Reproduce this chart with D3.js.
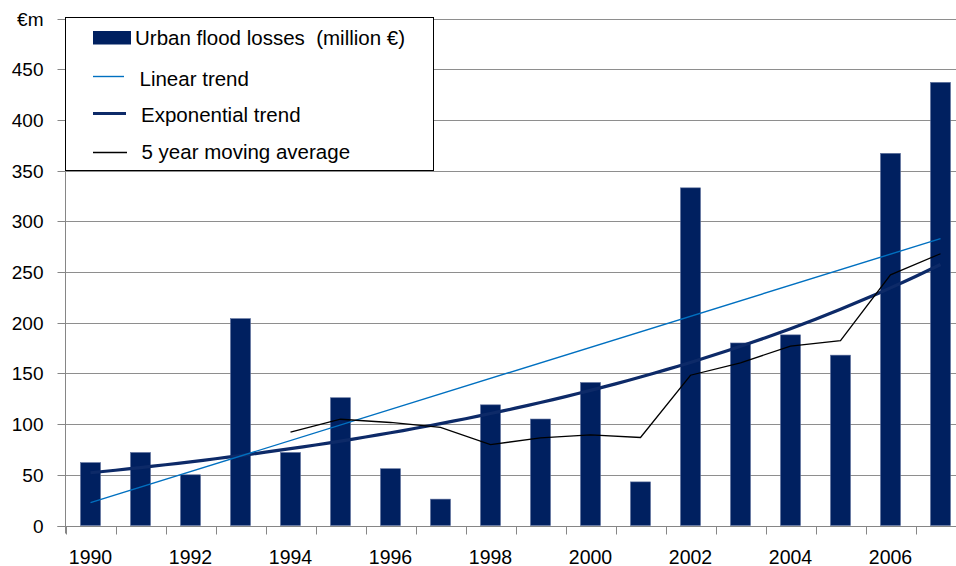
<!DOCTYPE html>
<html>
<head>
<meta charset="utf-8">
<script src="https://cdn.jsdelivr.net/npm/d3@7"></script>
<style>
  body { margin: 0; background: #fff; }
  svg text { font-family: "Liberation Sans", Arial, sans-serif; fill: #000; }
</style>
</head>
<body>
<script>
var w = 956,
    h = 566;

// data
var years = [1990, 1991, 1992, 1993, 1994, 1995, 1996, 1997, 1998,
             1999, 2000, 2001, 2002, 2003, 2004, 2005, 2006, 2007];
var losses = [62, 72, 50, 204, 72, 126, 56, 26, 119,
              105, 141, 43, 333, 180, 188, 168, 367, 437];
var yTicks = [0, 50, 100, 150, 200, 250, 300, 350, 400, 450, 500];
var xLabelYears = [1990, 1992, 1994, 1996, 1998, 2000, 2002, 2004, 2006];
var unitLabel = "€m";
var legendLabels = ["Urban flood losses  (million €)", "Linear trend",
                    "Exponential trend", "5 year moving average"];

var barColor = "#002060",
    linColor = "#0070c0",
    expColor = "#0d2a68",
    maColor = "#000";

// plot edges (note: "top" is taken by window.top)
var pLeft = 65.5, pRight = 965.5, pBottom = 525.5, pTop = 18.5;

var svg = d3.select("body")
    .append("svg")
    .attr("width", w)
    .attr("height", h);

var x = d3.scaleBand()
    .domain(years)
    .range([pLeft, pRight])
    .paddingInner(0.6)
    .paddingOuter(0.3);

// continuous year -> centre of band, for the trend lines
var xc = d3.scaleLinear()
    .domain([years[0], years[years.length - 1]])
    .range([x(years[0]) + x.bandwidth() / 2, x(years[years.length - 1]) + x.bandwidth() / 2]);

var y = d3.scaleLinear()
    .domain([0, 500])
    .range([pBottom, pTop]);

// gridlines
svg.append("g")
    .selectAll("line")
    .data(yTicks.slice(1))
    .enter()
    .append("line")
    .attr("x1", pLeft)
    .attr("x2", pRight)
    .attr("y1", function (d) { return Math.round(y(d)) + 0.5; })
    .attr("y2", function (d) { return Math.round(y(d)) + 0.5; })
    .attr("stroke", "#8e8e8e")
    .attr("stroke-width", 1);

// y axis
var yAxis = svg.append("g")
    .attr("transform", "translate(" + pLeft + ",0)")
    .call(d3.axisLeft(y)
        .tickValues(yTicks)
        .tickSize(8)
        .tickPadding(14)
        .tickFormat(function (d) { return d === 500 ? unitLabel : d; }));
yAxis.select(".domain").attr("stroke", "#868686").attr("d", "M0," + pTop + "V" + (pBottom + 8));
yAxis.selectAll(".tick line").attr("stroke", "#868686");
yAxis.selectAll(".tick").attr("transform", function (d) {
    return "translate(0," + (Math.round(y(d)) + 0.5) + ")";
});
yAxis.selectAll("text")
    .style("font-size", "19px")
    .style("font-family", "'Liberation Sans', Arial, sans-serif");

// x axis
var xAxis = svg.append("g")
    .attr("transform", "translate(0," + (Math.round(pBottom) + 0.5) + ")")
    .call(d3.axisBottom(x)
        .tickValues(xLabelYears)
        .tickSize(0)
        .tickFormat(function (d) { return d; }));
xAxis.select(".domain").attr("stroke", "#868686").attr("d", "M" + (pLeft - 8) + ",0H" + pRight);
xAxis.selectAll("text")
    .attr("y", 37)
    .attr("dy", 0)
    .style("font-size", "19.5px")
    .style("font-family", "'Liberation Sans', Arial, sans-serif");

// boundary ticks between categories
xAxis.selectAll(".bound")
    .data(years)
    .enter()
    .append("line")
    .attr("class", "bound")
    .attr("x1", function (d) { return Math.round(x(d) - x.step() * 0.3) + 0.5; })
    .attr("x2", function (d) { return Math.round(x(d) - x.step() * 0.3) + 0.5; })
    .attr("y1", 0)
    .attr("y2", 8)
    .attr("stroke", "#868686");

// bars
svg.append("g")
    .selectAll("rect")
    .data(losses)
    .enter()
    .append("rect")
    .attr("x", function (d, i) { return x(years[i]); })
    .attr("y", function (d) { return y(d); })
    .attr("width", x.bandwidth())
    .attr("height", function (d) { return pBottom - y(d); })
    .attr("fill", barColor)
    .attr("stroke", "#5c6f9c")
    .attr("stroke-width", 0.6);

// linear trend (least squares on the bars)
var n = losses.length;
var tMean = d3.mean(years), vMean = d3.mean(losses);
var sxx = d3.sum(years, function (t) { return (t - tMean) * (t - tMean); });
var sxy = d3.sum(years, function (t, i) { return (t - tMean) * (losses[i] - vMean); });
var slope = sxy / sxx;
var lin = function (t) { return vMean + slope * (t - tMean); };

// exponential trend (least squares on log values, like the spreadsheet does)
var logs = losses.map(Math.log);
var lMean = d3.mean(logs);
var lxy = d3.sum(years, function (t, i) { return (t - tMean) * (logs[i] - lMean); });
var b = lxy / sxx;
var expo = function (t) { return Math.exp(lMean + b * (t - tMean)); };

// 5 year moving average
var ma = [];
for (var i = 4; i < n; i++) {
    ma.push({ year: years[i], v: d3.mean(losses.slice(i - 4, i + 1)) });
}

var line = d3.line()
    .x(function (d) { return xc(d[0]); })
    .y(function (d) { return y(d[1]); });

var t0 = years[0], t1 = years[n - 1];
var expPts = [];
for (var k = 0; k <= 68; k++) {
    var t = t0 + (t1 - t0) * k / 68;
    expPts.push([t, expo(t)]);
}

svg.append("path")
    .attr("d", line(expPts))
    .attr("fill", "none")
    .attr("stroke", expColor)
    .attr("stroke-width", 3.2);

svg.append("path")
    .attr("d", line([[t0, lin(t0)], [t1, lin(t1)]]))
    .attr("fill", "none")
    .attr("stroke", linColor)
    .attr("stroke-width", 1.4);

svg.append("path")
    .attr("d", line(ma.map(function (d) { return [d.year, d.v]; })))
    .attr("fill", "none")
    .attr("stroke", maColor)
    .attr("stroke-width", 1.3);

// legend
var lg = svg.append("g");
lg.append("rect")
    .attr("x", 65.5)
    .attr("y", 17.5)
    .attr("width", 368)
    .attr("height", 153)
    .attr("fill", "#fff")
    .attr("stroke", "#000")
    .attr("stroke-width", 1);

lg.append("rect")
    .attr("x", 93)
    .attr("y", 31)
    .attr("width", 38)
    .attr("height", 13.5)
    .attr("fill", barColor);

var swatches = [
    { y: 76.5, x2: 124, color: linColor, sw: 1.4 },
    { y: 113.5, x2: 126, color: expColor, sw: 3.2 },
    { y: 152.5, x2: 127, color: maColor, sw: 1.3 }
];
lg.selectAll(".sw")
    .data(swatches)
    .enter()
    .append("line")
    .attr("class", "sw")
    .attr("x1", 93)
    .attr("x2", function (d) { return d.x2; })
    .attr("y1", function (d) { return d.y; })
    .attr("y2", function (d) { return d.y; })
    .attr("stroke", function (d) { return d.color; })
    .attr("stroke-width", function (d) { return d.sw; });

var textPos = [[135, 45], [139.5, 85.5], [141, 122], [141.5, 158.5]];
lg.selectAll(".lt")
    .data(legendLabels)
    .enter()
    .append("text")
    .attr("class", "lt")
    .attr("x", function (d, i) { return textPos[i][0]; })
    .attr("y", function (d, i) { return textPos[i][1]; })
    .style("font-size", "20.5px")
    .style("white-space", "pre")
    .text(function (d) { return d; });
</script>
</body>
</html>
